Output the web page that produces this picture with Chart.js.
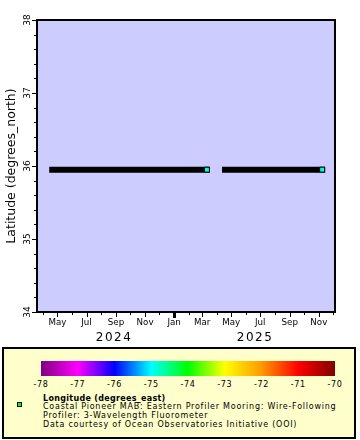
<!DOCTYPE html>
<html><head><meta charset="utf-8">
<script src="https://cdn.jsdelivr.net/npm/chart.js@4.4.1/dist/chart.umd.min.js"></script>
<style>
html,body{margin:0;padding:0;background:#fff;}
#wrap{position:relative;width:360px;height:440px;overflow:hidden;font-family:"DejaVu Sans",sans-serif;color:#000;}
canvas{position:absolute;left:0;top:0;}
#legend{position:absolute;left:2px;top:347px;width:354px;height:92px;box-sizing:border-box;border:2px solid #000;background:#ffffcc;}
#cbar{position:absolute;left:41px;top:361px;width:294px;height:15px;}
.cl{position:absolute;top:380px;font-size:8px;line-height:9px;letter-spacing:0.7px;transform:translateX(-50%);white-space:nowrap;}
.lt{position:absolute;left:43px;font-size:8px;line-height:9px;letter-spacing:0.75px;white-space:nowrap;}
.lt.b{font-weight:bold;letter-spacing:0.3px;}
#mk{position:absolute;left:17px;top:402px;width:5px;height:5px;box-sizing:border-box;border:1px solid #000;background:#00ff00;}
</style></head><body>
<div id="wrap">
<canvas id="c" width="360" height="440" style="width:360px;height:440px"></canvas>
<div id="legend"></div>
<div id="cbar"></div>
<div id="mk"></div>
</div>
<script>
// ---- data ----
const deploymentStart = ['2024-04-20', '2025-04-18'];
const deploymentEnd   = ['2025-03-11', '2025-11-08'];
const latitude  = [35.95, 35.95];
const longitude = [-74.84, -74.84];
const xRange = ['2024-03-19', '2025-12-05'];
const latRange = [34, 38];
const latTicks = [34, 35, 36, 37, 38];
const monthNames = ['Jan','Feb','Mar','Apr','May','Jun','Jul','Aug','Sep','Oct','Nov','Dec'];
const yearLabels = ['2024', '2025'];
const yearLabelCenters = ['2024-08-28', '2025-06-20'];
const colorbarTicks = [-78, -77, -76, -75, -74, -73, -72, -71, -70];
const paletteColors = ['#800080','#ff00ff','#0000ff','#00ffff','#00ff00','#ffff00','#ff9900','#ff0000','#800000'];
const yTitle = 'Latitude (degrees_north)';
const legendTitle = 'Longitude (degrees_east)';
const legendLines = [
  'Coastal Pioneer MAB: Eastern Profiler Mooring: Wire-Following',
  'Profiler: 3-Wavelength Fluorometer',
  'Data courtesy of Ocean Observatories Initiative (OOI)'
];

// ---- helpers ----
const t = s => Date.parse(s + 'T00:00:00Z');
function hex2rgb(h){return [1,3,5].map(i=>parseInt(h.substr(i,2),16));}
function paletteAt(v){
  const lo = colorbarTicks[0], hi = colorbarTicks[colorbarTicks.length-1];
  const f = Math.max(0, Math.min(1, (v-lo)/(hi-lo))) * (paletteColors.length-1);
  const i = Math.min(Math.floor(f), paletteColors.length-2), r = f - i;
  const a = hex2rgb(paletteColors[i]), b = hex2rgb(paletteColors[i+1]);
  return 'rgb(' + a.map((c,k)=>Math.round(c+(b[k]-c)*r)).join(',') + ')';
}

// month ticks
const monthTicks = [];
{
  const s = new Date(t(xRange[0])), e = t(xRange[1]);
  let y = s.getUTCFullYear(), m = s.getUTCMonth() + 1;
  while (true) {
    if (m > 11) { m = 0; y++; }
    const v = Date.UTC(y, m, 1);
    if (v > e) break;
    monthTicks.push(v);
    m++;
  }
}

// ---- datasets ----
const datasets = [{
  type: 'scatter',
  data: deploymentEnd.map((d,i)=>({x:t(d), y:latitude[i]})),
  pointStyle: 'rect', pointRadius: 3.5, pointHoverRadius: 3.5,
  backgroundColor: longitude.map(paletteAt), borderColor: '#000', borderWidth: 1
}];
deploymentStart.forEach((s,i)=>{
  datasets.push({
    type: 'line',
    data: [{x:t(s), y:latitude[i]}, {x:t(deploymentEnd[i]), y:latitude[i]}],
    borderColor: '#000', borderWidth: 6, borderCapStyle: 'square',
    pointRadius: 0, fill: false, tension: 0
  });
});

const decor = {
  id: 'decor',
  beforeDraw(chart){
    const {ctx, chartArea:a} = chart;
    ctx.save(); ctx.fillStyle = '#ccccff';
    ctx.fillRect(a.left, a.top, a.right-a.left, a.bottom-a.top); ctx.restore();
  },
  afterDraw(chart){
    const {ctx, chartArea:a, scales:{x, y}} = chart;
    ctx.save();
    ctx.strokeStyle = '#000'; ctx.fillStyle = '#000';
    // y ticks (major every 1, minor every 0.2)
    for (let i = 0; i <= (latRange[1]-latRange[0])*5; i++){
      const v = latRange[0] + i/5;
      const py = Math.round(y.getPixelForValue(v)) + 0.5;
      const len = (i % 5 === 0) ? 5 : 3;
      ctx.lineWidth = 1; ctx.beginPath();
      ctx.moveTo(a.left - len, py); ctx.lineTo(a.left, py); ctx.stroke();
    }
    // x month ticks
    monthTicks.forEach(v=>{
      const m = new Date(v).getUTCMonth();
      const px = Math.round(x.getPixelForValue(v)) + 0.5;
      let len = (m % 2 === 0) ? 5 : 3, lw = 1;
      if (m === 0) { len = 6; lw = 3; }
      ctx.lineWidth = lw; ctx.beginPath();
      ctx.moveTo(px, a.bottom); ctx.lineTo(px, a.bottom + len); ctx.stroke();
    });
    // border
    ctx.lineWidth = 2;
    ctx.strokeRect(a.left, a.top, a.right-a.left, a.bottom-a.top);
    // y tick labels (rotated)
    ctx.font = '9px "DejaVu Sans"';
    ctx.textAlign = 'center'; ctx.textBaseline = 'middle';
    latTicks.forEach(v=>{
      ctx.save();
      ctx.translate(28, y.getPixelForValue(v));
      ctx.rotate(-Math.PI/2);
      ctx.fillText(String(v), 0, 0);
      ctx.restore();
    });
    // year labels
    ctx.font = '12px "DejaVu Sans"';
    ctx.letterSpacing = '1.5px';
    yearLabels.forEach((lbl,i)=>{
      ctx.fillText(lbl, x.getPixelForValue(t(yearLabelCenters[i])), 338);
    });
    ctx.restore();
  }
};

new Chart(document.getElementById('c'), {
  data: { datasets },
  options: {
    responsive: false, animation: false, events: [],
    layout: { padding: { top: 20, right: 25, left: 0, bottom: 0 } },
    plugins: { legend: { display: false }, tooltip: { enabled: false } },
    scales: {
      x: {
        type: 'linear', min: t(xRange[0]), max: t(xRange[1]),
        afterBuildTicks: s => { s.ticks = monthTicks.map(v=>({value:v})); },
        afterFit: s => { s.height = 128; },
        grid: { display: true, drawOnChartArea: false, drawTicks: true, tickLength: 5, color: 'rgba(0,0,0,0)', tickColor: 'rgba(0,0,0,0)' },
        border: { display: false },
        ticks: {
          autoSkip: false, maxRotation: 0, minRotation: 0, padding: 1,
          color: '#000', font: { family: 'DejaVu Sans', size: 8.7 },
          callback: v => { const m = new Date(v).getUTCMonth(); return m % 2 === 0 ? monthNames[m] : ''; }
        }
      },
      y: {
        type: 'linear', min: latRange[0], max: latRange[1],
        afterFit: s => { s.width = 37; },
        grid: { display: false }, border: { display: false },
        ticks: { display: false },
        title: { display: true, text: yTitle, color: '#000',
                 font: { family: 'DejaVu Sans', size: 12.5 }, padding: { top: 4.5, bottom: 0 } }
      }
    }
  },
  plugins: [decor]
});

// ---- legend / colour bar ----
const wrap = document.getElementById('wrap');
const lo = colorbarTicks[0], hi = colorbarTicks[colorbarTicks.length-1];
document.getElementById('cbar').style.background =
  'linear-gradient(to right,' + paletteColors.map((c,i)=>c + ' ' + (i/(paletteColors.length-1)*100).toFixed(2) + '%').join(',') + ')';
colorbarTicks.forEach(v=>{
  const d = document.createElement('div');
  d.className = 'cl'; d.textContent = String(v);
  d.style.left = (41 + (v-lo)/(hi-lo)*294) + 'px';
  wrap.appendChild(d);
});
const tops = [393.7, 402.4, 411, 419.7];
[legendTitle].concat(legendLines).forEach((txt,i)=>{
  const d = document.createElement('div');
  d.className = 'lt' + (i === 0 ? ' b' : '');
  d.textContent = txt; d.style.top = tops[i] + 'px';
  wrap.appendChild(d);
});
</script>
</body></html>
